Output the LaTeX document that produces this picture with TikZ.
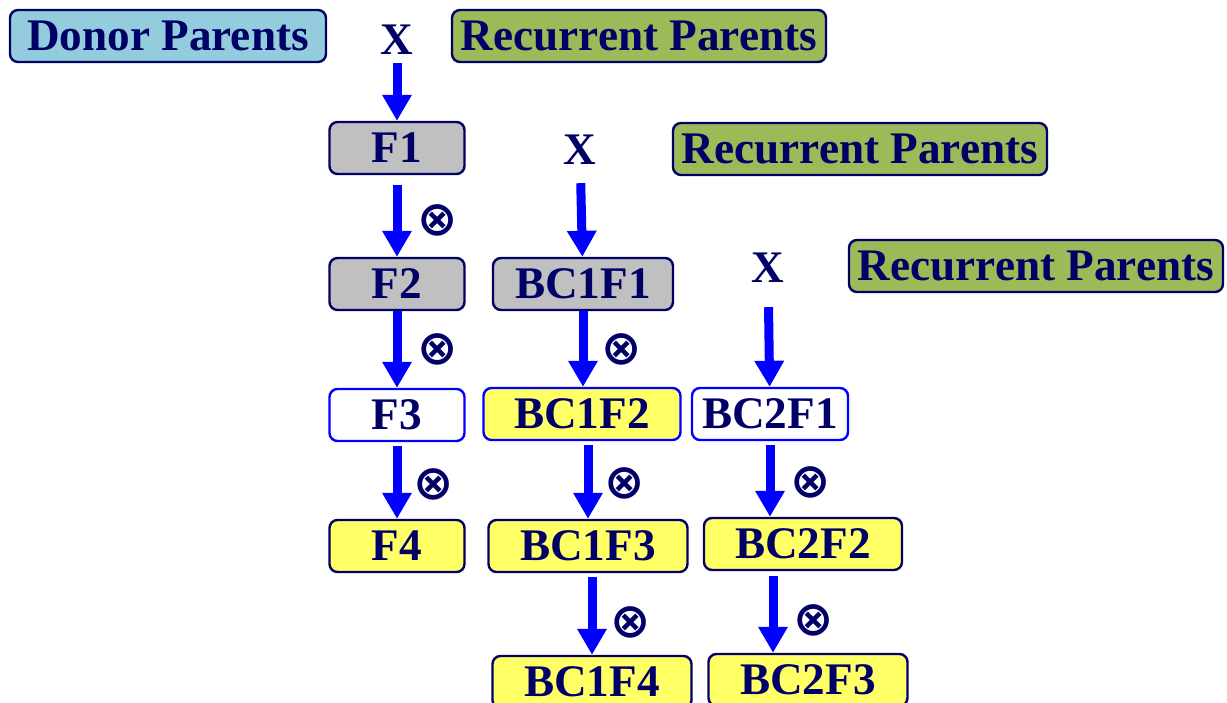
\documentclass[tikz,border=0pt]{standalone}
\usepackage{fontspec}
\setmainfont{Liberation Serif}
\newfontfamily\symfont{DejaVu Sans}
\usetikzlibrary{arrows.meta}

\definecolor{navy}{HTML}{000066}
\definecolor{donorblue}{HTML}{93CDDD}
\definecolor{recgreen}{HTML}{9BBB59}
\definecolor{progray}{HTML}{C0C0C0}
\definecolor{selyellow}{HTML}{FFFF66}

\tikzset{
  box/.style={draw=navy, line width=1.2pt, rounded corners=4pt, text=navy,
    font=\fontsize{22.6}{26}\selectfont\bfseries, inner sep=0pt,
    minimum height=26pt},
  donor/.style={box, fill=donorblue, minimum width=158pt},
  recurrent/.style={box, fill=recgreen, minimum width=187pt},
  grey/.style={box, fill=progray},
  open/.style={box, draw=blue, fill=white},
  sel/.style={box, fill=selyellow},
  cross/.style={text=navy, font=\symfont\fontsize{24}{24}\selectfont\bfseries, inner sep=0pt},
  xmark/.style={text=navy, font=\fontsize{22.6}{26}\selectfont\bfseries, inner sep=4pt},
  flow/.style={draw=blue, line width=4.5pt,
    -{Triangle[width=14pt, length=13pt]}, shorten <=5pt}
}

\begin{document}
\begin{tikzpicture}[x=0.5pt, y=-0.5pt]
  \useasboundingbox (0,0) rectangle (1227,702);

  % crosses with the recurrent parents
  \node[donor] (donor) at (168,36) {Donor Parents};
  \node[xmark] (x1) at (397,40) {X};
  \node[recurrent] (rp1) at (639,36) {Recurrent Parents};
  \node[xmark] (x2) at (580,150) {X};
  \node[recurrent] (rp2) at (860,149) {Recurrent Parents};
  \node[xmark] (x3) at (768,268) {X};
  \node[recurrent] (rp3) at (1036,266) {Recurrent Parents};

  % F column
  \node[grey, minimum width=67.5pt] (f1) at (397,148) {F1};
  \node[grey, minimum width=67.5pt] (f2) at (397,284) {F2};
  \node[open, minimum width=67.5pt] (f3) at (397,415) {F3};
  \node[sel,  minimum width=67.5pt] (f4) at (397,546) {F4};

  % BC1 column
  \node[grey, minimum width=90pt] (bc1f1) at (583,284) {BC1F1};
  \node[sel, draw=blue, minimum width=98.5pt] (bc1f2) at (582,414) {BC1F2};
  \node[sel, minimum width=99.5pt] (bc1f3) at (588,546) {BC1F3};
  \node[sel, minimum width=99.5pt] (bc1f4) at (592,682) {BC1F4};

  % BC2 column
  \node[open, minimum width=78pt] (bc2f1) at (770,414) {BC2F1};
  \node[sel, minimum width=99pt] (bc2f2) at (803,544) {BC2F2};
  \node[sel, minimum width=99.5pt] (bc2f3) at (808,680) {BC2F3};

  % arrows
  \draw[flow, shorten <=0pt] (x1) -- (f1);
  \draw[flow] (x2) -- (bc1f1);
  \draw[flow, shorten <=8pt] (x3) -- (bc2f1);
  \draw[flow] (f1.south) -- (f2.north)
    node[cross, pos=0.55, right=8pt] (s1) {⊗};
  \draw[flow, shorten <=0pt] (f2.south) -- (f3.north)
    node[cross, pos=0.5, right=8pt] (s2) {⊗};
  \draw[flow, shorten <=2pt] (f3.south) -- (f4.north)
    node[cross, pos=0.55, right=6pt] (s3) {⊗};
  \draw[flow, shorten <=0pt] (bc1f1.south) -- (bc1f1.south |- bc1f2.north)
    node[cross, pos=0.5, right=7pt] (s4) {⊗};
  \draw[flow, shorten <=2pt] (bc1f3.north |- bc1f2.south) -- (bc1f3.north)
    node[cross, pos=0.55, right=6pt] (s5) {⊗};
  \draw[flow, shorten <=2pt] (bc2f1.south) -- (bc2f1.south |- bc2f2.north)
    node[cross, pos=0.55, right=8pt] (s6) {⊗};
  \draw[flow, shorten <=2pt] (bc1f4.north |- bc1f3.south) -- (bc1f4.north)
    node[cross, pos=0.6, right=7pt] (s7) {⊗};
  \draw[flow, shorten <=2pt] (773,572) -- (bc2f3.north -| 773,0)
    node[cross, pos=0.6, right=8pt] (s8) {⊗};
\end{tikzpicture}
\end{document}
